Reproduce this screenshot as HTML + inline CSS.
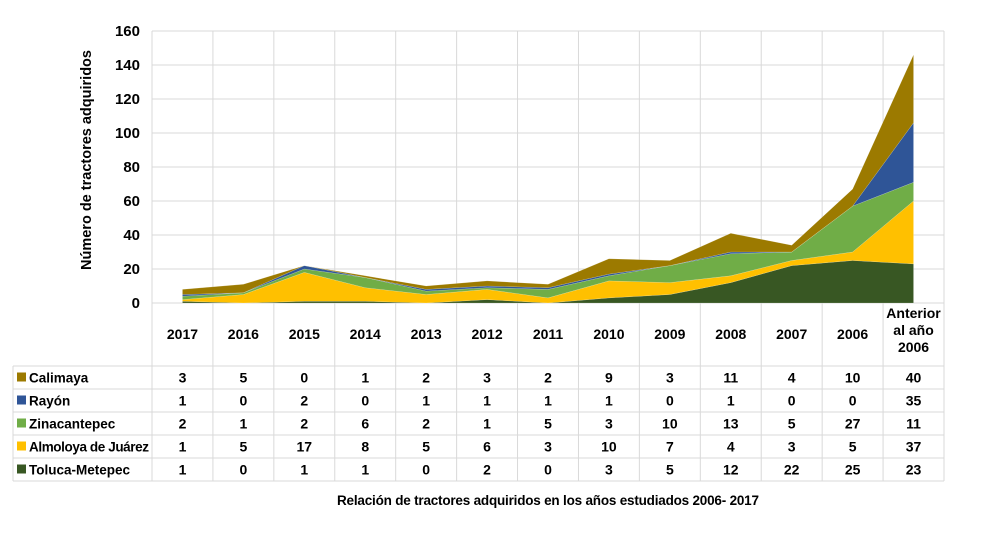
<!DOCTYPE html>
<html><head><meta charset="utf-8">
<style>
html,body{margin:0;padding:0;background:#fff;}
svg{display:block;font-family:"Liberation Sans",sans-serif;font-weight:bold;}
</style></head>
<body>
<svg id="chart" width="997" height="541" viewBox="0 0 997 541" xmlns="http://www.w3.org/2000/svg"></svg>
<script>
const categories=["2017","2016","2015","2014","2013","2012","2011","2010","2009","2008","2007","2006","Anterior al año 2006"];
const seriesNames=["Toluca-Metepec","Almoloya de Juárez","Zinacantepec","Rayón","Calimaya"];
const toluca=[1,0,1,1,0,2,0,3,5,12,22,25,23];
const almoloya=[1,5,17,8,5,6,3,10,7,4,3,5,37];
const zinacantepec=[2,1,2,6,2,1,5,3,10,13,5,27,11];
const rayon=[1,0,2,0,1,1,1,1,0,1,0,0,35];
const calimaya=[3,5,0,1,2,3,2,9,3,11,4,10,40];
const yTicks=[0,20,40,60,80,100,120,140,160];
const seriesColors=["#385723","#ffc000","#70ad47","#2f5597","#9c7a00"];

const NS="http://www.w3.org/2000/svg";
const svg=document.getElementById('chart');
const X0=152,X1=944,Y0=303,Y1=31,YMAX=160;
const colW=(X1-X0)/categories.length;
function xPos(i){return X0+colW*(i+0.5);}
function yPos(v){return Y0-(v/YMAX)*(Y0-Y1);}
function mk(tag,attrs,parent){const e=document.createElementNS(NS,tag);for(const k in attrs)e.setAttribute(k,attrs[k]);(parent||svg).appendChild(e);return e;}

const grid=mk('g',{});


yTicks.forEach(t=>{
  const l=mk('line',{x1:X0,x2:X1,y1:yPos(t),y2:yPos(t),stroke:'#d9d9d9','stroke-width':1},grid);
  
  
  const tx=mk('text',{x:140,y:yPos(t)+5,'text-anchor':'end','font-size':15,fill:'#000'});
  tx.textContent=t;
  
  
});
for(let i=0;i<=categories.length;i++){
  const x=X0+colW*i;
  const l=mk('line',{x1:x,x2:x,y1:Y1,y2:481,stroke:'#d9d9d9','stroke-width':1},grid);
  
  
}

const data=[toluca,almoloya,zinacantepec,rayon,calimaya];
let base=categories.map(()=>0);
data.forEach((s,si)=>{
  const top=s.map((v,i)=>base[i]+v);
  let d='';
  top.forEach((v,i)=>{d+=(i?'L':'M')+xPos(i)+','+yPos(v);});
  for(let i=base.length-1;i>=0;i--)d+='L'+xPos(i)+','+yPos(base[i]);
  d+='Z';
  const p=mk('path',{d:d,fill:seriesColors[si],stroke:'#fff','stroke-width':0.3,'stroke-opacity':0.5});
  
  
  base=top;
});

const at=mk('text',{x:0,y:0,transform:'translate(91,160) rotate(-90)','text-anchor':'middle','font-size':14.5});
at.textContent='Número de tractores adquiridos';



categories.forEach((c,i)=>{
  const parts=c==="Anterior al año 2006"?["Anterior","al año","2006"]:[c];
  const startY=parts.length===1?339:318;
  parts.forEach((p,j)=>{
    const t=mk('text',{x:xPos(i),y:startY+j*17,'text-anchor':'middle','font-size':14});
    t.textContent=p;
    
    
  });
});

const rowsTop=366,rowH=23;
const tableOrder=[4,3,2,1,0];
const tbl=mk('g',{});


for(let r=0;r<=5;r++){
  const l=mk('line',{x1:13,x2:X1,y1:rowsTop+r*rowH,y2:rowsTop+r*rowH,stroke:'#d9d9d9','stroke-width':1},tbl);
  
  
}
const ll=mk('line',{x1:13,x2:13,y1:rowsTop,y2:rowsTop+5*rowH,stroke:'#d9d9d9','stroke-width':1},tbl);


tableOrder.forEach((si,r)=>{
  const cy=rowsTop+r*rowH+rowH/2;
  const sw=mk('rect',{x:17,y:cy-5,width:9,height:9,fill:seriesColors[si]},tbl);
  
  
  const nm=mk('text',{x:29,y:cy+5,'font-size':13.5},tbl);
  nm.textContent=seriesNames[si];
  if(seriesNames[si]==="Almoloya de Juárez")nm.setAttribute('textLength','120');
  
  
  data[si].forEach((v,i)=>{
    const t=mk('text',{x:xPos(i),y:cy+5,'text-anchor':'middle','font-size':14},tbl);
    t.textContent=v;
    
    
  });
});

const cap=mk('text',{x:548,y:505,'text-anchor':'middle','font-size':13.5,textLength:422});
cap.textContent='Relación de tractores adquiridos en los años estudiados 2006- 2017';


</script>
</body></html>
